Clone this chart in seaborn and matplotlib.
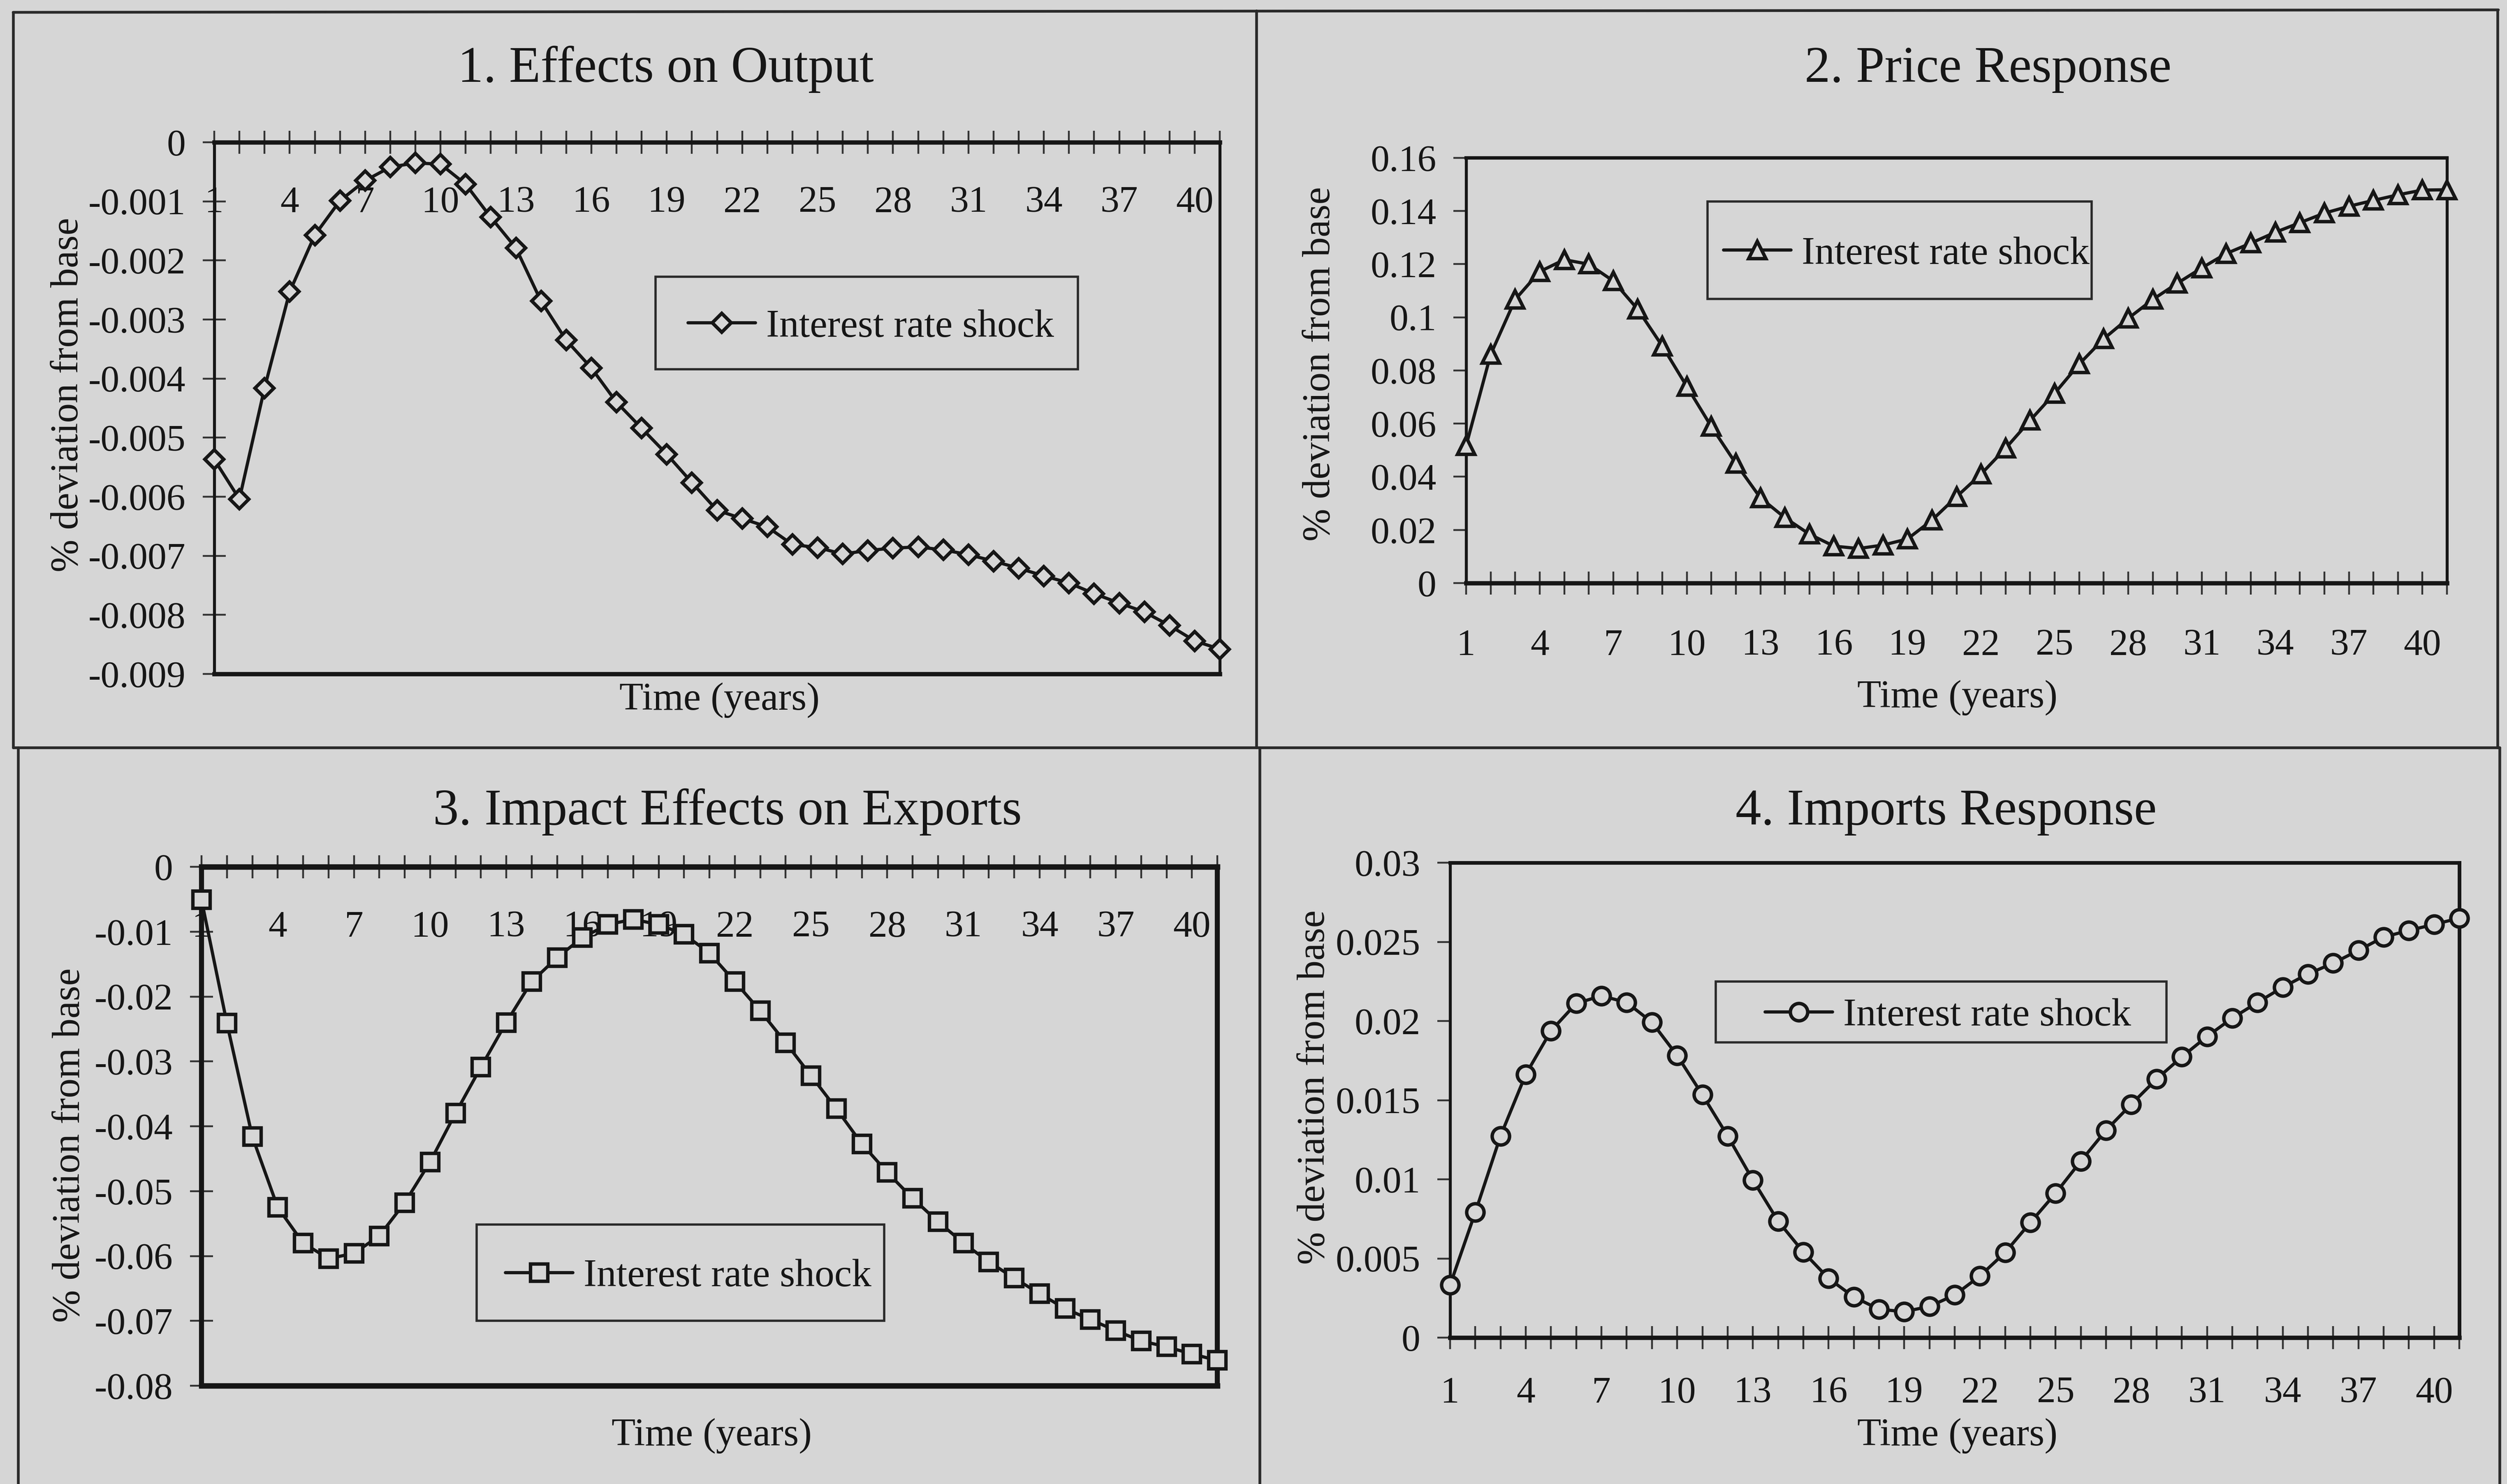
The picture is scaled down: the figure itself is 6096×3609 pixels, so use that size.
import matplotlib
matplotlib.use("Agg")
import matplotlib.pyplot as plt
from matplotlib.lines import Line2D
from matplotlib.patches import Rectangle
from matplotlib.ticker import FixedLocator, FixedFormatter
import seaborn as sns
import pandas as pd

# ---- data -------------------------------------------------------------
years = list(range(1, 42))

output_effect = [
    -0.00537, -0.00604, -0.00416, -0.00253, -0.00157, -0.00099, -0.00065,
    -0.00042, -0.00035, -0.00037, -0.00071, -0.00127, -0.00179, -0.00269,
    -0.00335, -0.00382, -0.00440, -0.00484, -0.00528, -0.00576, -0.00623,
    -0.00637, -0.00651, -0.00681, -0.00686, -0.00697, -0.00691, -0.00687,
    -0.00685, -0.00690, -0.00698, -0.00709, -0.00721, -0.00734, -0.00746,
    -0.00764, -0.00780, -0.00795, -0.00818, -0.00844, -0.00858,
]

price_response = [
    0.0517, 0.0860, 0.1067, 0.1172, 0.1217, 0.1200, 0.1137, 0.1030, 0.0892,
    0.0740, 0.0589, 0.0450, 0.0321, 0.0246, 0.0184, 0.0139, 0.0130, 0.0143,
    0.0166, 0.0237, 0.0325, 0.0410, 0.0507, 0.0612, 0.0714, 0.0824, 0.0919,
    0.0996, 0.1067, 0.1128, 0.1186, 0.1240, 0.1279, 0.1320, 0.1356, 0.1392,
    0.1418, 0.1440, 0.1461, 0.1479, 0.1480,
]

exports_effect = [
    -0.0051, -0.0241, -0.0416, -0.0525, -0.0580, -0.0604, -0.0596, -0.0569,
    -0.0518, -0.0455, -0.0380, -0.0309, -0.0240, -0.0177, -0.0140, -0.0109,
    -0.0089, -0.0081, -0.0089, -0.0104, -0.0133, -0.0177, -0.0222, -0.0271,
    -0.0322, -0.0373, -0.0427, -0.0471, -0.0511, -0.0547, -0.0580, -0.0609,
    -0.0634, -0.0658, -0.0681, -0.0698, -0.0715, -0.0731, -0.0740, -0.0751,
    -0.0761,
]

imports_response = [
    0.00332, 0.00792, 0.01274, 0.01663, 0.01938, 0.02111, 0.02159, 0.02117,
    0.01992, 0.01782, 0.01534, 0.01274, 0.00996, 0.00736, 0.00541, 0.00374,
    0.00257, 0.00179, 0.00164, 0.00197, 0.00269, 0.00389, 0.00538, 0.00727,
    0.00912, 0.01115, 0.01310, 0.01474, 0.01633, 0.01773, 0.01902, 0.02018,
    0.02117, 0.02213, 0.02297, 0.02365, 0.02446, 0.02530, 0.02572, 0.02610,
    0.02650,
]

x_tick_labels = [str(v) if (v - 1) % 3 == 0 and v <= 40 else "" for v in years]

y_ticks_output = [0, -0.001, -0.002, -0.003, -0.004, -0.005, -0.006, -0.007, -0.008, -0.009]
y_labels_output = ["0", "-0.001", "-0.002", "-0.003", "-0.004", "-0.005", "-0.006", "-0.007", "-0.008", "-0.009"]
y_ticks_price = [0, 0.02, 0.04, 0.06, 0.08, 0.10, 0.12, 0.14, 0.16]
y_labels_price = ["0", "0.02", "0.04", "0.06", "0.08", "0.1", "0.12", "0.14", "0.16"]
y_ticks_exports = [0, -0.01, -0.02, -0.03, -0.04, -0.05, -0.06, -0.07, -0.08]
y_labels_exports = ["0", "-0.01", "-0.02", "-0.03", "-0.04", "-0.05", "-0.06", "-0.07", "-0.08"]
y_ticks_imports = [0, 0.005, 0.01, 0.015, 0.02, 0.025, 0.03]
y_labels_imports = ["0", "0.005", "0.01", "0.015", "0.02", "0.025", "0.03"]

titles = ["1. Effects on Output", "2. Price Response",
          "3. Impact Effects on Exports", "4. Imports Response"]
series_label = "Interest rate shock"
x_title = "Time (years)"
y_title = "% deviation from base"

# ---- style ------------------------------------------------------------
BG = "#d6d6d6"
INK = "#161616"
W, H, DPI = 6096, 3609, 400

sns.set_theme(style="white")
plt.rcParams["font.family"] = ["Liberation Serif", "DejaVu Serif"]
plt.rcParams["text.color"] = INK
plt.rcParams["axes.edgecolor"] = INK
plt.rcParams["xtick.color"] = "#333333"
plt.rcParams["ytick.color"] = "#333333"
plt.rcParams["xtick.labelcolor"] = INK
plt.rcParams["ytick.labelcolor"] = INK

fig = plt.figure(figsize=(W / DPI, H / DPI), dpi=DPI, facecolor=BG)


def fx(px):
    return px / W


def fy(py):
    return 1 - py / H


def add_axes(left, right, top, bottom):
    ax = fig.add_axes([fx(left), fy(bottom), fx(right - left), (bottom - top) / H])
    ax.set_facecolor("none")
    return ax


panels = [
    dict(values=output_effect, marker="D", ms=5.8, box=(521, 2966, 346, 1639),
         ylim=(-0.009, 0), yticks=y_ticks_output, ylabels=y_labels_output,
         axis_top=True, xpad=-39,
         spines=dict(top=1.9, bottom=1.9, left=1.3, right=1.3),
         ytickdir="inout",
         title_xy=(1619, 169), xlab_xy=(1750, 1703), ylab_xy=(165, 960),
         legend_box=(1594, 2621, 673, 898), legend_x=1673),
    dict(values=price_response, marker="^", ms=7.6, box=(3565, 5950, 384, 1418),
         ylim=(0, 0.16), yticks=y_ticks_price, ylabels=y_labels_price,
         axis_top=False, xpad=15,
         spines=dict(top=1.5, bottom=1.9, left=1.3, right=1.3),
         ytickdir="out",
         title_xy=(4834, 169), xlab_xy=(4760, 1697), ylab_xy=(3209, 885),
         legend_box=(4152, 5086, 490, 727), legend_x=4191),
    dict(values=exports_effect, marker="s", ms=7.4, box=(490, 2960, 2108, 3370),
         ylim=(-0.08, 0), yticks=y_ticks_exports, ylabels=y_labels_exports,
         axis_top=True, xpad=-39,
         spines=dict(top=2.4, bottom=2.4, left=2.2, right=2.2),
         ytickdir="inout",
         title_xy=(1769, 1975), xlab_xy=(1731, 3492), ylab_xy=(169, 2785),
         legend_box=(1159, 2150, 2978, 3212), legend_x=1229),
    dict(values=imports_response, marker="o", ms=7.6, box=(3526, 5980, 2098, 3253),
         ylim=(0, 0.03), yticks=y_ticks_imports, ylabels=y_labels_imports,
         axis_top=False, xpad=12,
         spines=dict(top=1.6, bottom=1.9, left=1.3, right=1.6),
         ytickdir="out",
         title_xy=(4732, 1975), xlab_xy=(4760, 3492), ylab_xy=(3196, 2644),
         legend_box=(4172, 5268, 2387, 2535), legend_x=4292),
]

TICK_FS = 16.5
LABEL_FS = 17.2
TITLE_FS = 22.5

for i, p in enumerate(panels):
    left, right, top, bottom = p["box"]
    ax = add_axes(left, right, top, bottom)
    df = pd.DataFrame({"year": years, "value": p["values"]})
    sns.lineplot(data=df, x="year", y="value", ax=ax, color=INK, linewidth=1.4,
                 marker=p["marker"], markersize=p["ms"], markerfacecolor=BG,
                 markeredgecolor=INK, markeredgewidth=1.5, label=series_label,
                 clip_on=False, zorder=3)

    ax.set_xlim(1, 41)
    ax.set_ylim(*p["ylim"])
    ax.set_xlabel("")
    ax.set_ylabel("")

    ax.xaxis.set_major_locator(FixedLocator(years))
    ax.xaxis.set_major_formatter(FixedFormatter(x_tick_labels))
    ax.yaxis.set_major_locator(FixedLocator(p["yticks"]))
    ax.yaxis.set_major_formatter(FixedFormatter(p["ylabels"]))

    for side, lw in p["spines"].items():
        ax.spines[side].set_visible(True)
        ax.spines[side].set_linewidth(lw)
        ax.spines[side].set_color(INK)

    if p["axis_top"]:
        # category axis crosses at zero, which sits on the top edge
        ax.xaxis.set_ticks_position("top")
        ax.tick_params(axis="x", which="major", top=True, bottom=False,
                       labeltop=True, labelbottom=False, direction="inout",
                       length=10, width=0.8, pad=p["xpad"], labelsize=TICK_FS)
    else:
        ax.tick_params(axis="x", which="major", top=False, bottom=True,
                       labelbottom=True, direction="inout", length=10,
                       width=0.8, pad=p["xpad"], labelsize=TICK_FS)
    ylen = 10 if p["ytickdir"] == "inout" else 5.5
    ax.tick_params(axis="y", which="major", left=True, right=False,
                   direction=p["ytickdir"], length=ylen, width=0.8,
                   pad=7.5, labelsize=TICK_FS)

    # legend entry, with its own frame drawn as a box behind it
    lx0, lx1, ly0, ly1 = p["legend_box"]
    ax.legend(loc="center left",
              bbox_to_anchor=(fx(p["legend_x"]), fy((ly0 + ly1) / 2 + 10)),
              bbox_transform=fig.transFigure, frameon=False, borderpad=0,
              handlelength=1.72, handletextpad=0.27, fontsize=LABEL_FS,
              borderaxespad=0)
    fig.add_artist(Rectangle((fx(lx0), fy(ly1)), fx(lx1 - lx0), (ly1 - ly0) / H,
                             transform=fig.transFigure, facecolor="none",
                             edgecolor="#2a2a2a", linewidth=1.0, zorder=2))

    fig.text(fx(p["title_xy"][0]), fy(p["title_xy"][1]), titles[i],
             ha="center", va="center", fontsize=TITLE_FS)
    fig.text(fx(p["xlab_xy"][0]), fy(p["xlab_xy"][1]), x_title,
             ha="center", va="center", fontsize=LABEL_FS)
    fig.text(fx(p["ylab_xy"][0]), fy(p["ylab_xy"][1]), y_title,
             ha="center", va="center", rotation=90, fontsize=LABEL_FS)

# ---- page frame lines around the four boxes -----------------------------
frame_kw = dict(transform=fig.transFigure, color="#2a2a2a", linewidth=1.2)
fig.add_artist(Line2D([fx(32), fx(6075)], [fy(30), fy(24)], **frame_kw))
fig.add_artist(Line2D([fx(32), fx(6078)], [fy(1818), fy(1818)], **frame_kw))
fig.add_artist(Line2D([fx(32), fx(32)], [fy(30), fy(1818)], **frame_kw))
fig.add_artist(Line2D([fx(44), fx(44)], [fy(1818), fy(3609)], **frame_kw))
fig.add_artist(Line2D([fx(3055), fx(3055)], [fy(26), fy(1818)], **frame_kw))
fig.add_artist(Line2D([fx(3063), fx(3063)], [fy(1818), fy(3609)], **frame_kw))
fig.add_artist(Line2D([fx(6073), fx(6073)], [fy(24), fy(1818)], **frame_kw))
fig.add_artist(Line2D([fx(6078), fx(6078)], [fy(1818), fy(3609)], **frame_kw))

fig.savefig("out.png", dpi=DPI, facecolor=BG)
